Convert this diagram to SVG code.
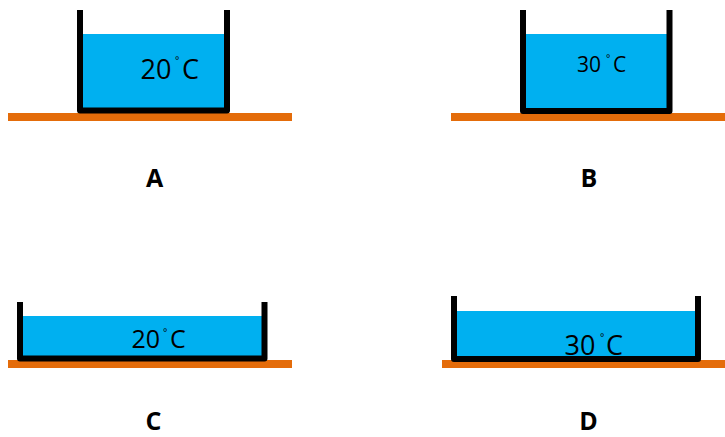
<svg xmlns="http://www.w3.org/2000/svg" width="725" height="437" viewBox="0 0 725 437">
<style>
.ground{fill:#E46C0A}
.water{fill:#00B0F0}
.wall{fill:none;stroke:#000;stroke-width:6;stroke-linejoin:round}
.t{font-family:"Open Sans","Noto Sans",sans-serif;fill:#000}
.deg{font-size:10px}
.lbl{font-family:"Open Sans","Noto Sans",sans-serif;font-weight:bold;font-size:25px;text-anchor:middle;fill:#000}
</style>
<rect width="725" height="437" fill="#fff"/>
<g id="A">
<rect class="ground" x="8" y="113" width="284" height="8"/>
<rect class="water" x="83" y="34" width="141" height="74"/>
<path class="wall" d="M80 10 V110.5 H227 V10"/>
<text class="t" font-size="27" y="79"><tspan x="140.5">20</tspan><tspan class="deg" x="175" y="64">°</tspan><tspan x="182" y="79">C</tspan></text>
<text class="lbl" x="154.5" y="187">A</text>
</g>
<g id="B">
<rect class="ground" x="451" y="113" width="274" height="8"/>
<rect class="water" x="526" y="34" width="141" height="74"/>
<path class="wall" d="M523 10 V111 H669.5 V10"/>
<text class="t" font-size="21" y="72"><tspan x="577">30</tspan><tspan class="deg" x="606" y="62">°</tspan><tspan x="613" y="72">C</tspan></text>
<text class="lbl" x="589" y="187">B</text>
</g>
<g id="C">
<rect class="ground" x="8" y="360" width="284" height="8"/>
<rect class="water" x="23" y="316" width="239" height="40"/>
<path class="wall" d="M20 302 V358.5 H264.5 V302"/>
<text class="t" font-size="25" y="348"><tspan x="131.5">20</tspan><tspan class="deg" x="163" y="336">°</tspan><tspan x="170" y="348">C</tspan></text>
<text class="lbl" x="153.5" y="430">C</text>
</g>
<g id="D">
<rect class="ground" x="442" y="360" width="283" height="8"/>
<rect class="water" x="457" y="311" width="238" height="45"/>
<path class="wall" d="M454 296 V359 H698 V296"/>
<text class="t" font-size="27" y="355"><tspan x="564.5">30</tspan><tspan class="deg" x="600" y="341">°</tspan><tspan x="606" y="355">C</tspan></text>
<text class="lbl" x="588.5" y="430">D</text>
</g>
<g id="connectors"></g>
</svg>
